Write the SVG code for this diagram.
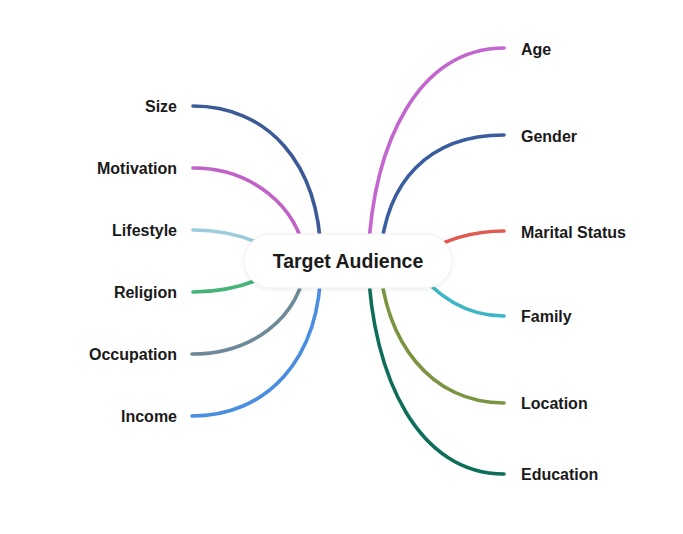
<svg xmlns="http://www.w3.org/2000/svg" width="683" height="534" viewBox="0 0 683 534">
<style>
.c{fill:none;stroke-width:3.6;stroke-linecap:round}
.l{font-family:"Liberation Sans",Arial,sans-serif;font-weight:bold;font-size:16px;fill:#1a1a1a}
.r{text-anchor:end}
</style>
<defs>
<filter id="sh" x="-10%" y="-30%" width="120%" height="160%">
<feDropShadow dx="0" dy="1" stdDeviation="2" flood-color="#000" flood-opacity="0.08"/>
</filter>
</defs>
<rect width="683" height="534" fill="#ffffff"/>
<g id="connectors">
<path class="c" stroke="#3d5a98" d="M193,106 C265,106 321,160 321,262"/>
<path class="c" stroke="#c062c8" d="M193,168 C250,168 300,205 306,262"/>
<path class="c" stroke="#9ccbdc" d="M193,230 C230,230 262,240 290,262"/>
<path class="c" stroke="#45b476" d="M193,292 C230,292 262,282 290,262"/>
<path class="c" stroke="#6e8a99" d="M192,354 C250,354 300,320 306,262"/>
<path class="c" stroke="#4a8ee2" d="M192,416 C265,416 321,362 321,262"/>
<path class="c" stroke="#c366d0" d="M504,48 C420,48 372,140 368,262"/>
<path class="c" stroke="#3a5da0" d="M504,135 C430,135 384,180 380,262"/>
<path class="c" stroke="#e05a50" d="M504,231 C470,231 440,240 410,262"/>
<path class="c" stroke="#3cb5c5" d="M504,316 C462,316 432,292 410,262"/>
<path class="c" stroke="#7a9442" d="M504,403 C430,403 384,340 380,262"/>
<path class="c" stroke="#0e6e5a" d="M504,474 C420,474 372,380 368,262"/>
</g>
<g id="center">
<rect x="244" y="234" width="208" height="54" rx="27" fill="#ffffff" stroke="#f0f0f0" stroke-width="1" filter="url(#sh)"/>
<text x="348" y="268" text-anchor="middle" font-family="Liberation Sans,Arial,sans-serif" font-weight="bold" font-size="19.5" fill="#1a1a1a">Target Audience</text>
</g>
<g id="n-size"><text class="l r" x="177" y="112">Size</text></g>
<g id="n-motivation"><text class="l r" x="177" y="174">Motivation</text></g>
<g id="n-lifestyle"><text class="l r" x="177" y="236">Lifestyle</text></g>
<g id="n-religion"><text class="l r" x="177" y="298">Religion</text></g>
<g id="n-occupation"><text class="l r" x="177" y="360">Occupation</text></g>
<g id="n-income"><text class="l r" x="177" y="422">Income</text></g>
<g id="n-age"><text class="l" x="521" y="55">Age</text></g>
<g id="n-gender"><text class="l" x="521" y="142">Gender</text></g>
<g id="n-marital"><text class="l" x="521" y="238">Marital Status</text></g>
<g id="n-family"><text class="l" x="521" y="322">Family</text></g>
<g id="n-location"><text class="l" x="521" y="409">Location</text></g>
<g id="n-education"><text class="l" x="521" y="480">Education</text></g>
</svg>
